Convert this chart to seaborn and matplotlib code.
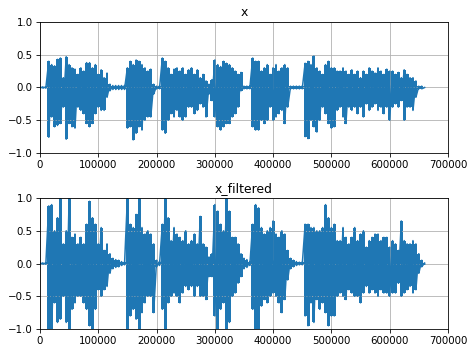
import numpy as np
import matplotlib
matplotlib.use("Agg")
import matplotlib.pyplot as plt
import seaborn as sns

# sample index of each envelope reading (every 5000 samples)
t = np.arange(0, 665000, 5000)

# envelope of the raw signal x
x_hi = [0.01, 0.01, 0.01, 0.40, 0.35, 0.33, 0.43, 0.45, 0.15, 0.47,
        0.35, 0.30, 0.28, 0.20, 0.30, 0.25, 0.38, 0.38, 0.30, 0.35,
        0.20, 0.27, 0.15, 0.22, 0.05, 0.03, 0.03, 0.03, 0.03, 0.03,
        0.30, 0.40, 0.35, 0.42, 0.40, 0.35, 0.30, 0.25, 0.28, 0.05,
        0.02, 0.02, 0.45, 0.40, 0.30, 0.20, 0.28, 0.30, 0.25, 0.30,
        0.20, 0.27, 0.30, 0.20, 0.27, 0.15, 0.20, 0.10, 0.05, 0.12,
        0.42, 0.35, 0.32, 0.40, 0.37, 0.35, 0.30, 0.25, 0.20, 0.23,
        0.02, 0.02, 0.02, 0.45, 0.40, 0.40, 0.25, 0.30, 0.35, 0.20,
        0.30, 0.35, 0.25, 0.30, 0.35, 0.30, 0.02, 0.02, 0.02, 0.02,
        0.02, 0.37, 0.40, 0.35, 0.48, 0.30, 0.25, 0.20, 0.35, 0.40,
        0.30, 0.30, 0.25, 0.25, 0.30, 0.25, 0.20, 0.27, 0.20, 0.25,
        0.15, 0.25, 0.20, 0.30, 0.25, 0.22, 0.30, 0.25, 0.20, 0.28,
        0.25, 0.25, 0.20, 0.23, 0.15, 0.27, 0.20, 0.15, 0.15, 0.10,
        0.02, 0.02, 0.00]
x_lo = [-0.01, -0.01, -0.01, -0.76, -0.45, -0.60, -0.58, -0.55, -0.30, -0.79,
        -0.55, -0.60, -0.62, -0.30, -0.35, -0.40, -0.55, -0.60, -0.55, -0.40,
        -0.30, -0.35, -0.35, -0.15, -0.05, -0.03, -0.03, -0.03, -0.03, -0.03,
        -0.62, -0.60, -0.80, -0.70, -0.60, -0.65, -0.50, -0.45, -0.45, -0.10,
        -0.02, -0.02, -0.65, -0.70, -0.50, -0.40, -0.45, -0.35, -0.45, -0.50,
        -0.45, -0.30, -0.30, -0.40, -0.35, -0.25, -0.30, -0.45, -0.10, -0.20,
        -0.45, -0.60, -0.65, -0.60, -0.55, -0.55, -0.45, -0.40, -0.30, -0.05,
        -0.02, -0.02, -0.02, -0.60, -0.65, -0.65, -0.50, -0.55, -0.50, -0.30,
        -0.50, -0.45, -0.40, -0.35, -0.55, -0.30, -0.02, -0.02, -0.02, -0.02,
        -0.02, -0.75, -0.78, -0.50, -0.60, -0.68, -0.50, -0.30, -0.40, -0.55,
        -0.62, -0.60, -0.35, -0.30, -0.45, -0.55, -0.30, -0.35, -0.30, -0.40,
        -0.30, -0.45, -0.25, -0.35, -0.30, -0.25, -0.35, -0.30, -0.40, -0.30,
        -0.50, -0.30, -0.25, -0.30, -0.20, -0.50, -0.30, -0.30, -0.35, -0.15,
        -0.02, -0.02, 0.00]

# envelope of x_filtered
xf_hi = [0.01, 0.01, 0.01, 0.88, 0.90, 0.50, 0.70, 1.00, 0.30, 0.50,
         1.00, 0.40, 0.45, 0.30, 0.40, 0.30, 0.60, 0.95, 0.70, 0.60,
         0.30, 0.55, 0.20, 0.30, 0.15, 0.08, 0.06, 0.05, 0.03, 0.02,
         1.00, 0.60, 0.55, 0.75, 1.00, 0.55, 0.45, 0.50, 0.45, 0.30,
         0.05, 0.03, 0.60, 1.00, 0.70, 0.35, 0.55, 0.45, 0.40, 0.35,
         0.50, 0.30, 0.35, 0.45, 0.30, 0.72, 0.30, 0.25, 0.10, 0.15,
         0.90, 0.80, 0.60, 0.50, 1.00, 0.80, 0.40, 0.40, 0.30, 0.15,
         0.08, 0.06, 0.03, 0.60, 0.90, 0.85, 0.55, 0.45, 0.50, 0.55,
         0.65, 0.45, 0.40, 0.50, 0.45, 0.20, 0.08, 0.05, 0.03, 0.02,
         0.02, 0.60, 0.60, 0.55, 0.55, 0.50, 0.50, 0.55, 0.90, 0.70,
         0.55, 0.60, 0.35, 0.35, 0.55, 0.40, 0.30, 0.40, 0.55, 0.35,
         0.45, 0.50, 0.25, 0.35, 0.40, 0.45, 0.45, 0.35, 0.40, 0.40,
         0.25, 0.35, 0.30, 0.20, 0.65, 0.35, 0.30, 0.30, 0.35, 0.30,
         0.15, 0.05, 0.01]
xf_lo = [-0.01, -0.01, -0.01, -1.00, -1.00, -0.60, -0.90, -0.85, -0.50, -0.90,
         -1.00, -0.70, -0.60, -0.50, -0.50, -0.60, -0.70, -0.95, -1.00, -0.70,
         -0.40, -0.50, -0.40, -0.35, -0.15, -0.08, -0.06, -0.05, -0.03, -0.02,
         -1.00, -0.80, -0.70, -0.85, -1.00, -0.75, -0.60, -0.50, -0.50, -0.75,
         -0.05, -0.03, -0.70, -1.00, -0.60, -0.50, -0.45, -0.50, -0.60, -0.45,
         -0.35, -0.40, -0.35, -0.50, -0.35, -0.50, -0.50, -0.55, -0.20, -0.20,
         -0.80, -1.00, -0.70, -0.60, -1.00, -0.90, -0.50, -0.45, -0.30, -0.20,
         -0.08, -0.06, -0.03, -0.70, -1.00, -1.00, -0.65, -0.55, -0.60, -0.50,
         -0.45, -0.50, -0.60, -0.75, -0.55, -0.25, -0.08, -0.05, -0.03, -0.02,
         -0.02, -0.80, -0.95, -0.60, -0.90, -0.55, -0.70, -0.60, -0.75, -0.95,
         -0.80, -0.80, -0.50, -0.45, -0.50, -0.55, -0.40, -0.45, -0.50, -0.50,
         -0.60, -0.45, -0.35, -0.45, -0.40, -0.45, -0.50, -0.40, -0.45, -0.45,
         -0.50, -0.45, -0.45, -0.30, -0.50, -0.45, -0.40, -0.35, -0.45, -0.40,
         -0.15, -0.05, -0.01]

titles = ["x", "x_filtered"]
color = "#1f77b4"


def draw_wave(ax, hi, lo, title):
    # solid body of the waveform, held flat across each reading
    ax.fill_between(t, lo, hi, step="mid", color=color, linewidth=0)
    # zigzag between the peaks for the spiky edge
    xs = np.repeat(t, 2)
    ys = np.column_stack([hi, lo]).ravel()
    sns.lineplot(x=xs, y=ys, sort=False, estimator=None, ax=ax,
                 color=color, linewidth=1.5)
    ax.set_xlim(0, 700000)
    ax.set_ylim(-1, 1)
    ax.set_xticks(np.arange(0, 700001, 100000))
    ax.set_yticks([-1.0, -0.5, 0.0, 0.5, 1.0])
    ax.grid(True)
    ax.set_title(title)


fig, axes = plt.subplots(2, 1, figsize=(474 / 74, 352 / 74), dpi=74)
fig.subplots_adjust(left=0.0844, right=0.945, top=0.9375, bottom=0.0653,
                    hspace=0.344)

draw_wave(axes[0], x_hi, x_lo, titles[0])
draw_wave(axes[1], xf_hi, xf_lo, titles[1])

plt.savefig("out.png", dpi=74)
